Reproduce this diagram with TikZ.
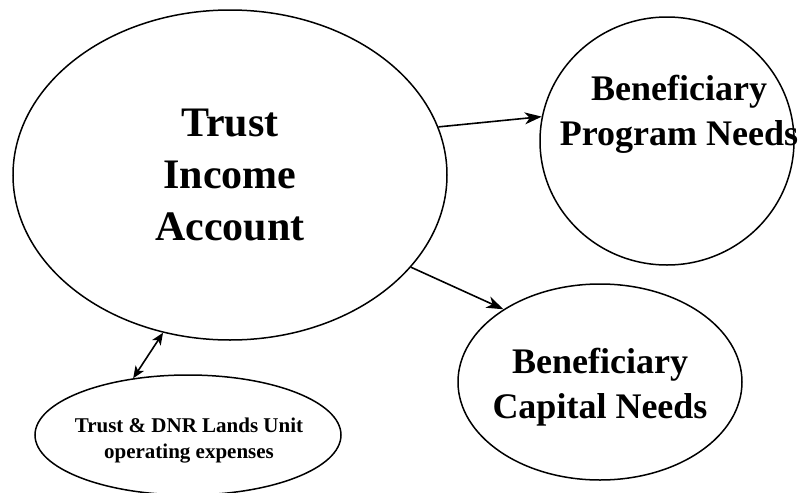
\documentclass[tikz,border=0pt]{standalone}
\usepackage{fontspec}
\setmainfont{Liberation Serif}
\usetikzlibrary{arrows.meta,shapes.geometric,positioning}

\begin{document}
\begin{tikzpicture}[x=1pt, y=-1pt,
  oval/.style={draw, ellipse, line width=1.5pt, inner sep=0pt},
  label text/.style={align=center, inner sep=0pt},
  link/.style={line width=1.6pt, -{Stealth[length=17pt,width=12pt,inset=5pt]}}
]
  \useasboundingbox (0,0) rectangle (804,493);
  \node[oval, align=center, minimum width=434pt, minimum height=330pt,
    font=\bfseries\fontsize{42}{52}\selectfont] (income) at (230,175)
    {Trust\\Income\\Account};
  \node[oval, minimum width=254pt, minimum height=248pt] (program) at (667,141) {};
  \node[label text, font=\bfseries\fontsize{36}{45}\selectfont] (programtxt)
    at (679,114) {Beneficiary\\Program Needs};
  \node[oval, minimum width=284pt, minimum height=196pt] (capital) at (600,382) {};
  \node[label text, font=\bfseries\fontsize{36}{45}\selectfont] (capitaltxt)
    at (600,387) {Beneficiary\\Capital Needs};
  \node[oval, minimum width=306pt, minimum height=120pt] (expenses) at (188,435) {};
  \node[label text, font=\bfseries\fontsize{21}{26}\selectfont] (expensestxt)
    at (189,441) {Trust \& DNR Lands Unit\\operating expenses};
  \draw[link] (income.13) -- (program.169);
  \draw[link] (income.-27) -- (capital.143);
  \draw[link, {Stealth[length=12pt,width=10pt,inset=3pt]}-{Stealth[length=12pt,width=10pt,inset=3pt]}]
    (income.-113) -- (expenses.134);
\end{tikzpicture}
\end{document}
